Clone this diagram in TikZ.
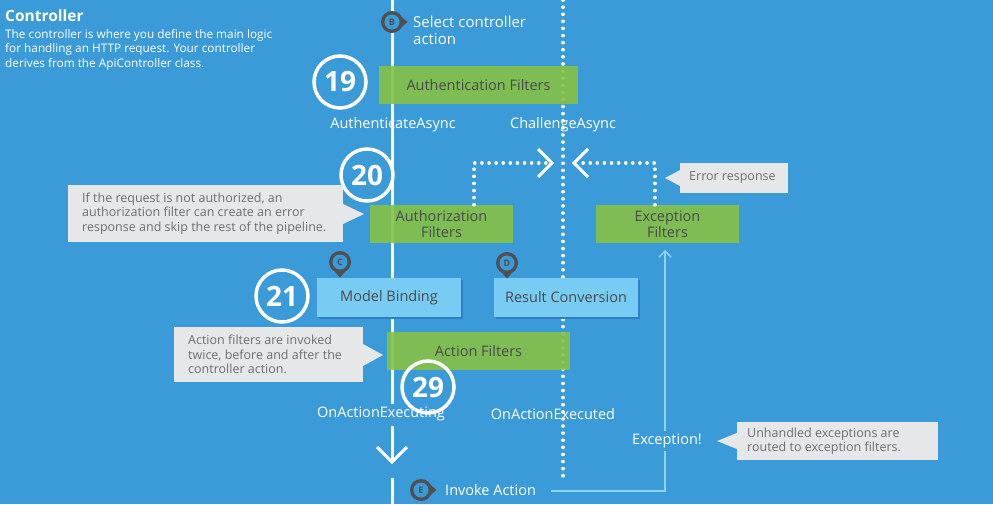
\documentclass[tikz,border=0pt]{standalone}
\usepackage{fontspec}
\setmainfont{Open Sans}
\usetikzlibrary{calc,arrows.meta}
\definecolor{bg}{HTML}{3B9AD8}
\definecolor{grn}{HTML}{86C146}
\definecolor{lbl}{HTML}{78CCF3}
\definecolor{lbls}{HTML}{2F7FC0}
\definecolor{txt}{HTML}{4A4A4A}
\definecolor{call}{HTML}{E6E7E9}
\definecolor{ctx}{HTML}{6D6E71}
\definecolor{mk}{HTML}{505050}
\definecolor{exl}{HTML}{8ED3F7}
\tikzset{
 x=1pt,y=-1pt,
 gbox/.style={fill=grn,fill opacity=0.9,text opacity=1,text=txt,font=\fontsize{14.5}{16}\selectfont,align=center,inner sep=0pt},
 bbox/.style={fill=lbl,text=txt,font=\fontsize{14.5}{16}\selectfont,inner sep=0pt},
 num/.style={circle,draw=white,line width=3.5pt,minimum size=52pt,inner sep=0pt,text=white,font=\bfseries\fontsize{28}{28}\selectfont},
 wl/.style={text=white,font=\fontsize{14.5}{16}\selectfont,inner sep=1pt},
 ctext/.style={text=ctx,font=\fontsize{12.5}{14.5}\selectfont,align=left,anchor=west,inner sep=0pt},
 dotl/.style={white,line width=3.5pt,dash pattern=on 0.1pt off 7pt,line cap=round},
 chev/.style={white,line width=3pt},
}
\newcommand{\marker}[3]{% pos, letter, angle
 \begin{scope}[shift={#1}]
 \fill[mk] (0,0) circle (11);
 \fill[mk,rotate=#3] (8,-6.5) -- (15.5,0) -- (8,6.5) -- cycle;
 \fill[bg] (0,0) circle (7.5);
 \node[text=mk,font=\bfseries\fontsize{9}{9}\selectfont,inner sep=0pt] at (0,0) {#2};
 \end{scope}}
\begin{document}
\begin{tikzpicture}
\fill[bg] (0,0) rectangle (993,504);
\useasboundingbox (0,0) rectangle (993,504);
\node[anchor=west,text=white,font=\bfseries\fontsize{15.5}{17}\selectfont,inner sep=0pt] (title) at (5,16) {Controller};
\node[anchor=north west,text=white,font=\fontsize{11.8}{14.5}\selectfont,align=left,inner sep=0pt] (desc) at (5,29) {The controller is where you define the main logic\\for handling an HTTP request. Your controller\\derives from the ApiController class.};
\draw[white,line width=3pt] (392,0) -- (392,404);
\draw[white,line width=3pt] (392,426) -- (392,462);
\draw[white,line width=3pt] (392,478) -- (392,504);
\draw[dotl] (563,0) -- (563,478);
\draw[chev] (377,447) -- (392,462) -- (407,447);
\marker{(392,22)}{B}{0}
\node[wl,anchor=west,align=left,font=\fontsize{15}{17}\selectfont] (sel) at (412,30) {Select controller\\action};
\node[gbox,minimum width=199pt,minimum height=38pt] (auth) at (478.5,85) {Authentication Filters};
\node[num] (n19) at (340,82) {19};
\node[wl] (aa) at (393,125) {AuthenticateAsync};
\node[wl] (ca) at (563,125) {ChallengeAsync};
\node[gbox,minimum width=143pt,minimum height=38pt] (authz) at (441.5,224) {Authorization\\Filters};
\node[gbox,minimum width=143pt,minimum height=38pt] (exf) at (667.5,224) {Exception\\Filters};
\node[num] (n20) at (367,175) {20};
\coordinate (ca1) at (548,163);
\coordinate (ca2) at (578,163);
\draw[dotl] (authz.north -| 474,0) -- (474,163) -- (ca1);
\draw[dotl] (exf.north -| 655,0) -- (655,163) -- (ca2);
\draw[chev] (538,149) -- (552,163) -- (538,177);
\draw[chev] (588,149) -- (574,163) -- (588,177);
\fill[call] (68,185) rectangle (343,242);
\fill[call] (343,204) -- (364,214) -- (343,224) -- cycle;
\node[ctext] (c1) at (82,213.5) {If the request is not authorized, an\\authorization filter can create an error\\response and skip the rest of the pipeline.};
\fill[call] (680,163) rectangle (788,193);
\fill[call] (680,170) -- (665,178) -- (680,186) -- cycle;
\node[ctext] (c2) at (689,178) {Error response};
\fill[lbls] (319,280) rectangle (463,319);
\node[bbox,minimum width=144pt,minimum height=39pt] (mb) at (389,297.5) {Model Binding};
\fill[lbls] (496,280) rectangle (640,319);
\node[bbox,minimum width=144pt,minimum height=39pt] (rc) at (566,297.5) {Result Conversion};
\marker{(340,262)}{C}{-90}
\marker{(507,263)}{D}{-90}
\node[num] (n21) at (282,296) {21};
\fill[call] (174,327) rectangle (363,382);
\fill[call] (363,344) -- (383,355) -- (363,366) -- cycle;
\node[ctext] (c3) at (188,354.5) {Action filters are invoked\\twice, before and after the\\controller action.};
\node[gbox,minimum width=183pt,minimum height=38pt] (af) at (478.5,351) {Action Filters};
\node[num] (n29) at (428,387) {29};
\node[wl] (oae) at (381,414) {OnActionExecuting};
\node[wl] (oad) at (553,414) {OnActionExecuted};
\marker{(421,490)}{E}{0}
\node[wl,anchor=west] (inv) at (444,490) {Invoke Action};
\draw[exl,line width=1.5pt,-{Straight Barb[length=6pt,width=12pt]}] (551,491) -- (665,491) -- (665,250);
\node[wl,fill=bg,inner sep=3pt] (exc) at (667,441) {Exception!};
\fill[call] (737,422) rectangle (938,460);
\fill[call] (737,433) -- (717,441) -- (737,449) -- cycle;
\node[ctext] (c4) at (747,441) {Unhandled exceptions are\\routed to exception filters.};
\end{tikzpicture}
\end{document}
